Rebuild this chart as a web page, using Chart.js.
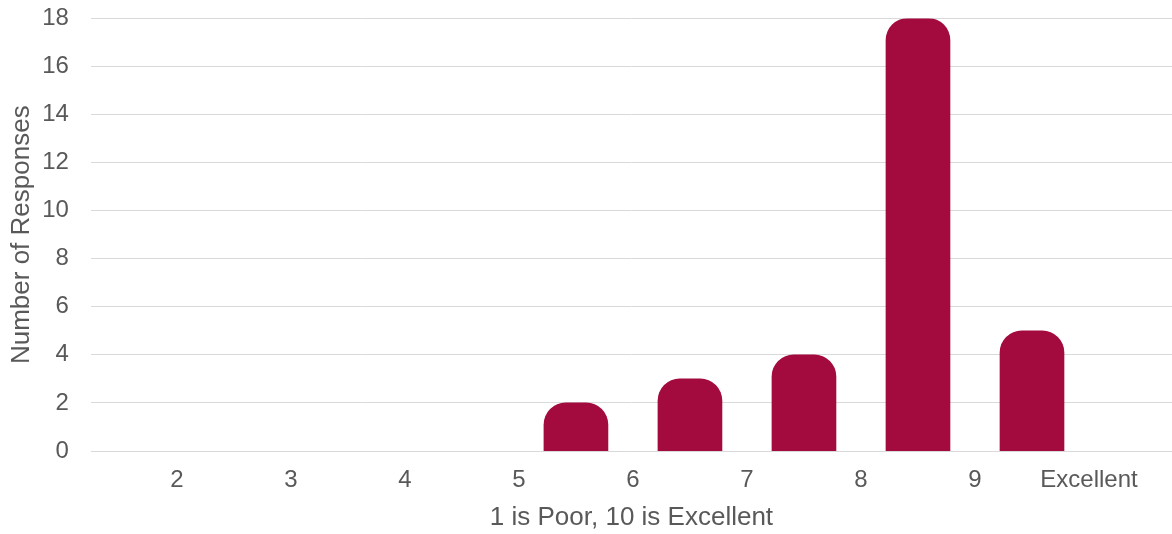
<!DOCTYPE html>
<html>
<head>
<meta charset="utf-8">
<script src="https://cdn.jsdelivr.net/npm/chart.js@4/dist/chart.umd.min.js"></script>
<style>
  html, body { margin: 0; padding: 0; background: #fff; }
  #wrap { width: 1172px; height: 534px; }
</style>
</head>
<body>
<div id="wrap"><canvas id="chart"></canvas></div>
<script>
// Данные графика
const tickValues = [2, 3, 4, 5, 6, 7, 8, 9, 10];
const tickLabels = ['2', '3', '4', '5', '6', '7', '8', '9', 'Excellent'];
const binEdges = [6, 7, 8, 9, 10];   // правая граница каждого столбца
const responses = [2, 3, 4, 18, 5];

const textColor = '#595959';
const gridColor = '#d9d9d9';
const barColor = '#a30a3d';
const fontFamily = 'Liberation Sans, Arial';

// Линия нуля поверх столбцов
const zeroLine = {
    id: 'zeroLine',
    afterDatasetsDraw(chart) {
        const { ctx, chartArea, scales } = chart;
        const y = Math.round(scales.y.getPixelForValue(0)) + 0.5;
        ctx.save();
        ctx.strokeStyle = gridColor;
        ctx.lineWidth = 1;
        ctx.beginPath();
        ctx.moveTo(chartArea.left, y);
        ctx.lineTo(chartArea.right, y);
        ctx.stroke();
        ctx.restore();
    }
};

const ctx = document.getElementById('chart').getContext('2d');

new Chart(ctx, {
    type: 'bar',
    data: {
        datasets: [{
            data: binEdges.map((edge, i) => ({ x: edge - 0.5, y: responses[i] })),
            backgroundColor: barColor,
            barThickness: 64,
            base: -0.08,
            borderRadius: { topLeft: 22, topRight: 22, bottomLeft: 0, bottomRight: 0 },
            borderSkipped: 'start'
        }]
    },
    plugins: [zeroLine],
    options: {
        responsive: true,
        maintainAspectRatio: false,
        animation: false,
        layout: { padding: { top: 0, right: 0, bottom: 1, left: 6 } },
        plugins: {
            legend: { display: false },
            tooltip: { enabled: false }
        },
        scales: {
            x: {
                type: 'linear',
                offset: false,
                min: 1.2456,
                max: 10.728,
                afterBuildTicks: scale => {
                    scale.ticks = tickValues.map(v => ({ value: v }));
                },
                afterFit: scale => {
                    scale.height = 82;
                },
                ticks: {
                    color: textColor,
                    font: { family: fontFamily, size: 24 },
                    padding: 15,
                    maxRotation: 0,
                    autoSkip: false,
                    callback: value => tickLabels[tickValues.indexOf(value)]
                },
                grid: { display: false, drawTicks: false },
                border: { display: false },
                title: {
                    display: true,
                    text: '1 is Poor, 10 is Excellent',
                    color: textColor,
                    font: { family: fontFamily, size: 26 },
                    padding: { top: 4, bottom: 0 }
                }
            },
            y: {
                min: 0,
                max: 18,
                ticks: {
                    stepSize: 2,
                    color: textColor,
                    font: { family: fontFamily, size: 24 },
                    padding: 4
                },
                grid: { color: gridColor, lineWidth: 1, drawTicks: true, tickLength: 18, tickColor: 'rgba(0,0,0,0)' },
                border: { display: false },
                title: {
                    display: true,
                    text: 'Number of Responses',
                    color: textColor,
                    font: { family: fontFamily, size: 26 },
                    padding: { top: 0, bottom: 1 }
                }
            }
        }
    }
});
</script>
</body>
</html>
